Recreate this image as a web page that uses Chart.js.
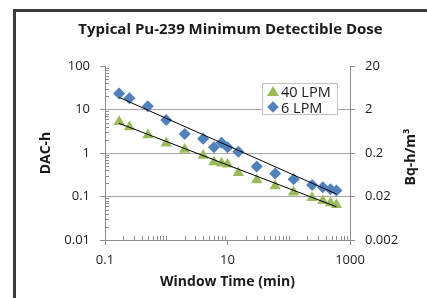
<!DOCTYPE html>
<html>
<head>
<meta charset="utf-8">
<script src="https://cdn.jsdelivr.net/npm/chart.js@4.4.1/dist/chart.umd.min.js"></script>
<style>
  html, body { margin: 0; padding: 0; background: #fff; overflow: hidden; }
  #wrap { position: relative; width: 427px; height: 298px; }
  #frame { position: absolute; left: 13px; top: 9px; width: 600px; height: 600px;
           border-left: 3px solid #3c3c3c; border-top: 3px solid #3c3c3c; }
  canvas { position: absolute; left: 0; top: 0; }
  #legend { position: absolute; left: 262px; top: 83px; width: 74px; height: 30px;
            border: 1px solid #c4c4c4; background: #fff; font: 14.5px 'Open Sans', sans-serif; color: #1a1a1a; }
  .item { position: absolute; left: 0; height: 15px; line-height: 15px; white-space: nowrap; }
  .item span { position: absolute; left: 18px; top: 0; }
  .tri { position: absolute; left: 4px; top: 2px; width: 0; height: 0;
         border-left: 6px solid transparent; border-right: 6px solid transparent; border-bottom: 10px solid; }
  .dia { position: absolute; left: 6px; top: 3px; width: 8px; height: 8px; transform: rotate(45deg); }
</style>
</head>
<body>
<div id="wrap">
  <div id="frame"></div>
  <canvas id="chart" width="427" height="298"></canvas>
  <div id="legend"></div>
</div>
<script>
// valores
const xTimes = [0.17, 0.25, 0.5, 1, 2, 4, 6, 8, 10, 15, 30, 60, 120, 240, 360, 480, 600];
const dose40 = [5.25, 3.95, 2.6, 1.67, 1.2, 0.88, 0.62, 0.58, 0.55, 0.35, 0.24, 0.175, 0.125, 0.093, 0.08, 0.071, 0.065];
const dose6 = [23.3, 18.1, 11.9, 5.74, 2.74, 2.13, 1.35, 1.73, 1.35, 1.07, 0.49, 0.34, 0.25, 0.184, 0.163, 0.147, 0.138];
const trendX = [0.17, 600];
const trend40 = [4.8, 0.058];
const trend6 = [19, 0.114];
const seriesNames = ['40 LPM', '6 LPM'];
const xTickLabels = [0.1, 10, 1000];
const yTickLabels = [0.01, 0.1, 1, 10, 100];
const y2TickLabels = [0.002, 0.02, 0.2, 2, 20];

const GREEN = '#9bbb59';
const BLUE = '#4f81bd';
const AXIS = '#8c8c8c';
const FONT = "'Open Sans', sans-serif";

const pts = (xs, ys) => xs.map((x, i) => ({ x: x, y: ys[i] }));
const isOneOf = (v, list) => list.some(t => Math.abs(Math.log10(v) - Math.log10(t)) < 1e-6);

function logTicks(scale) {
  const ticks = [];
  const e0 = Math.floor(Math.log10(scale.min) + 1e-9);
  const e1 = Math.ceil(Math.log10(scale.max) - 1e-9);
  for (let e = e0; e <= e1; e++) {
    for (let m = 1; m <= 9; m++) {
      const v = +(m * Math.pow(10, e)).toPrecision(6);
      if (v >= scale.min * 0.999999 && v <= scale.max * 1.000001) ticks.push({ value: v });
    }
  }
  scale.ticks = ticks;
}

// marcas menores hacia adentro, como en Excel
const minorTicks = {
  id: 'minorTicks',
  afterDraw(chart) {
    const { ctx, chartArea } = chart;
    const x = chart.scales.x, y = chart.scales.y;
    ctx.save();
    ctx.strokeStyle = AXIS;
    ctx.lineWidth = 1;
    ctx.beginPath();
    x.ticks.forEach(t => {
      if (isOneOf(t.value, xTickLabels)) return;
      const px = Math.round(x.getPixelForValue(t.value)) + 0.5;
      ctx.moveTo(px, chartArea.bottom);
      ctx.lineTo(px, chartArea.bottom - 4);
    });
    y.ticks.forEach(t => {
      if (isOneOf(t.value, yTickLabels)) return;
      const py = Math.round(y.getPixelForValue(t.value)) + 0.5;
      ctx.moveTo(chartArea.left, py);
      ctx.lineTo(chartArea.left + 4, py);
    });
    ctx.stroke();

    // titulo del eje derecho, leido de abajo hacia arriba
    ctx.fillStyle = '#1a1a1a';
    ctx.font = 'bold 14px ' + FONT;
    ctx.textAlign = 'center';
    ctx.textBaseline = 'middle';
    ctx.translate(chart.width - 16, (chartArea.top + chartArea.bottom) / 2 + 4);
    ctx.rotate(-Math.PI / 2);
    ctx.fillText('Bq-h/m³', 0, 0);
    ctx.restore();
  }
};

const ctx = document.getElementById('chart').getContext('2d');
new Chart(ctx, {
  type: 'scatter',
  data: {
    datasets: [
      { label: 'trend 6', data: pts(trendX, trend6), showLine: true, borderColor: '#000', borderWidth: 1,
        pointRadius: 0, order: 0 },
      { label: 'trend 40', data: pts(trendX, trend40), showLine: true, borderColor: '#000', borderWidth: 1,
        pointRadius: 0, order: 0 },
      { label: seriesNames[1], data: pts(xTimes, dose6), pointStyle: 'rectRot', pointRadius: 6,
        backgroundColor: BLUE, borderColor: BLUE, borderWidth: 0, order: 1 },
      { label: seriesNames[0], data: pts(xTimes, dose40), pointStyle: 'triangle', pointRadius: 6.5,
        backgroundColor: GREEN, borderColor: GREEN, borderWidth: 0, order: 2 }
    ]
  },
  options: {
    responsive: false,
    animation: false,
    layout: { padding: { left: 34, right: 0, top: 0, bottom: 4 } },
    plugins: {
      legend: { display: false },
      tooltip: { enabled: false },
      title: {
        display: true,
        text: 'Typical Pu-239 Minimum Detectible Dose',
        color: '#1a1a1a',
        font: { family: FONT, size: 15, weight: 'bold' },
        padding: { top: 21, bottom: 27 }
      }
    },
    scales: {
      x: {
        type: 'logarithmic', position: 'bottom', min: 0.1, max: 1000,
        afterBuildTicks: logTicks,
        afterFit: s => { s.height = 54; },
        border: { color: AXIS },
        grid: { drawOnChartArea: false, tickLength: 5,
                tickColor: c => isOneOf(c.tick.value, xTickLabels) ? AXIS : 'rgba(0,0,0,0)' },
        ticks: { autoSkip: false, maxRotation: 0, padding: 7, color: '#1a1a1a',
                 font: { family: FONT, size: 13 },
                 callback: v => isOneOf(v, xTickLabels) ? String(v) : '' },
        title: { display: true, text: 'Window Time (min)', color: '#1a1a1a',
                 font: { family: FONT, size: 14, weight: 'bold' }, padding: { top: 4, bottom: 4 } }
      },
      y: {
        type: 'logarithmic', position: 'left', min: 0.01, max: 100,
        afterBuildTicks: logTicks,
        afterFit: s => { s.width = 71; },
        border: { color: AXIS },
        grid: {
          tickLength: 5,
          color: c => (c.tick && isOneOf(c.tick.value, [0.1, 1, 10])) ? '#a6a6a6' : 'rgba(0,0,0,0)',
          tickColor: c => isOneOf(c.tick.value, yTickLabels) ? AXIS : 'rgba(0,0,0,0)'
        },
        ticks: { autoSkip: false, padding: 10, color: '#1a1a1a', font: { family: FONT, size: 13 },
                 callback: v => isOneOf(v, yTickLabels) ? String(v) : '' },
        title: { display: true, text: 'DAC-h', color: '#1a1a1a',
                 font: { family: FONT, size: 14, weight: 'bold' }, padding: { top: 4, bottom: 4 } }
      },
      y2: {
        type: 'logarithmic', position: 'right', min: 0.002, max: 20, display: true,
        afterBuildTicks: s => { s.ticks = y2TickLabels.map(v => ({ value: v })); },
        afterFit: s => { s.width = 77; },
        border: { color: AXIS },
        grid: { drawOnChartArea: false, tickLength: 5, tickColor: AXIS },
        ticks: { autoSkip: false, padding: 10, color: '#1a1a1a', font: { family: FONT, size: 13 },
                 callback: v => String(v) }
      }
    }
  },
  plugins: [minorTicks]
});

// leyenda dentro del area del grafico
const legend = document.getElementById('legend');
[[seriesNames[0], 'tri', GREEN], [seriesNames[1], 'dia', BLUE]].forEach((it, i) => {
  const row = document.createElement('div');
  row.className = 'item';
  row.style.top = (i * 16) + 'px';
  const mk = document.createElement('div');
  mk.className = it[1];
  if (it[1] === 'tri') mk.style.borderBottomColor = it[2]; else mk.style.background = it[2];
  const tx = document.createElement('span');
  tx.textContent = it[0];
  row.appendChild(mk);
  row.appendChild(tx);
  legend.appendChild(row);
});
</script>
</body>
</html>
